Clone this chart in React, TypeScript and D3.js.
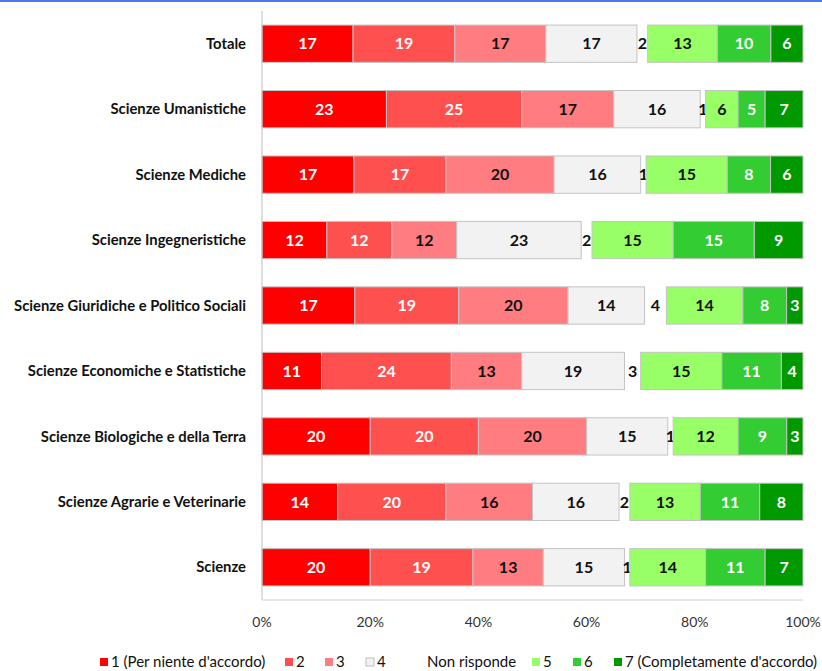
import React from "react";
import * as d3 from "d3";

const categories = [
  "Totale",
  "Scienze Umanistiche",
  "Scienze Mediche",
  "Scienze Ingegneristiche",
  "Scienze Giuridiche e Politico Sociali",
  "Scienze Economiche e Statistiche",
  "Scienze Biologiche e della Terra",
  "Scienze Agrarie e Veterinarie",
  "Scienze",
];

const seriesKeys = ["s1", "s2", "s3", "s4", "nr", "s5", "s6", "s7"];
const seriesNames = [
  "1 (Per niente d'accordo)",
  "2",
  "3",
  "4",
  "Non risponde",
  "5",
  "6",
  "7 (Completamente d'accordo)",
];

// values per category, in the order of seriesKeys
const s1 = [17, 23, 17, 12, 17, 11, 20, 14, 20];
const s2 = [19, 25, 17, 12, 19, 24, 20, 20, 19];
const s3 = [17, 17, 20, 12, 20, 13, 20, 16, 13];
const s4 = [17, 16, 16, 23, 14, 19, 15, 16, 15];
const nr = [2, 1, 1, 2, 4, 3, 1, 2, 1];
const s5 = [13, 6, 15, 15, 14, 15, 12, 13, 14];
const s6 = [10, 5, 8, 15, 8, 11, 9, 11, 11];
const s7 = [6, 7, 6, 9, 3, 4, 3, 8, 7];

const tickValues = [0, 0.2, 0.4, 0.6, 0.8, 1];

const colors = ["#ff0000", "#ff5050", "#ff7c80", "#f2f2f2", "none", "#99ff66", "#33cc33", "#009900"];
const labelColors = ["#fff", "#fff", "#111", "#111", "#111", "#111", "#fff", "#fff"];
const legendX = [100, 285, 325, 366, 427, 532, 573, 614];

const W = 822;
const H = 671;

export default function App() {
  const rows = categories.map((c, i) => ({
    cat: c,
    s1: s1[i], s2: s2[i], s3: s3[i], s4: s4[i], nr: nr[i], s5: s5[i], s6: s6[i], s7: s7[i],
  }));

  const stack = d3.stack<any>().keys(seriesKeys).offset(d3.stackOffsetExpand);
  const layers = stack(rows);

  const x = d3.scaleLinear().domain([0, 1]).range([262, 803]);
  const y = d3.scaleBand().domain(categories).range([11, 600]).paddingInner(0.43).paddingOuter(0.215);
  const font = "Lato, 'DejaVu Sans', sans-serif";

  return (
    <svg width={W} height={H} style={{ position: "absolute", left: 0, top: 0, background: "#fff" }} fontFamily={font}>
      <rect x={0} y={0} width={W} height={2} fill="#4a76f5" />

      {/* category labels */}
      {categories.map((c) => (
        <text key={c} x={246} y={y(c)! + y.bandwidth() / 2} dy="0.35em" textAnchor="end"
          fontSize={14.8} fontWeight="bold" fill="#111">{c}</text>
      ))}

      {/* bars */}
      {layers.map((layer, li) => (
        <g key={layer.key}>
          {layer.map((d, di) => {
            const x0 = x(d[0]);
            const x1 = x(d[1]);
            const yy = y(categories[di])!;
            const isNr = layer.key === "nr";
            return (
              <g key={di}>
                {!isNr && (
                  <rect x={x0} y={yy} width={x1 - x0} height={y.bandwidth()}
                    fill={colors[li]} stroke="#c4c4c4" strokeWidth={1} />
                )}
                <text x={(x0 + x1) / 2} y={yy + y.bandwidth() / 2} dy="0.36em" textAnchor="middle"
                  fontSize={16} fontWeight="bold" fill={labelColors[li]}>
                  {(d.data as any)[layer.key]}
                </text>
              </g>
            );
          })}
        </g>
      ))}

      {/* axes */}
      <line x1={262} x2={262} y1={11} y2={600} stroke="#bfbfbf" />
      <line x1={262} x2={803} y1={600} y2={600} stroke="#d0d0d0" />
      {tickValues.map((t) => (
        <text key={t} x={x(t)} y={622} dy="0.35em" textAnchor="middle" fontSize={14} fill="#333">
          {d3.format(".0%")(t)}
        </text>
      ))}

      {/* legend */}
      {seriesNames.map((n, i) => (
        <g key={n}>
          {colors[i] !== "none" && (
            <rect x={legendX[i]} y={658} width={8} height={8} fill={colors[i]}
              stroke={i === 3 ? "#bfbfbf" : "none"} />
          )}
          <text x={colors[i] === "none" ? legendX[i] : legendX[i] + 11} y={662} dy="0.35em"
            fontSize={15} fill="#111">{n}</text>
        </g>
      ))}
    </svg>
  );
}
